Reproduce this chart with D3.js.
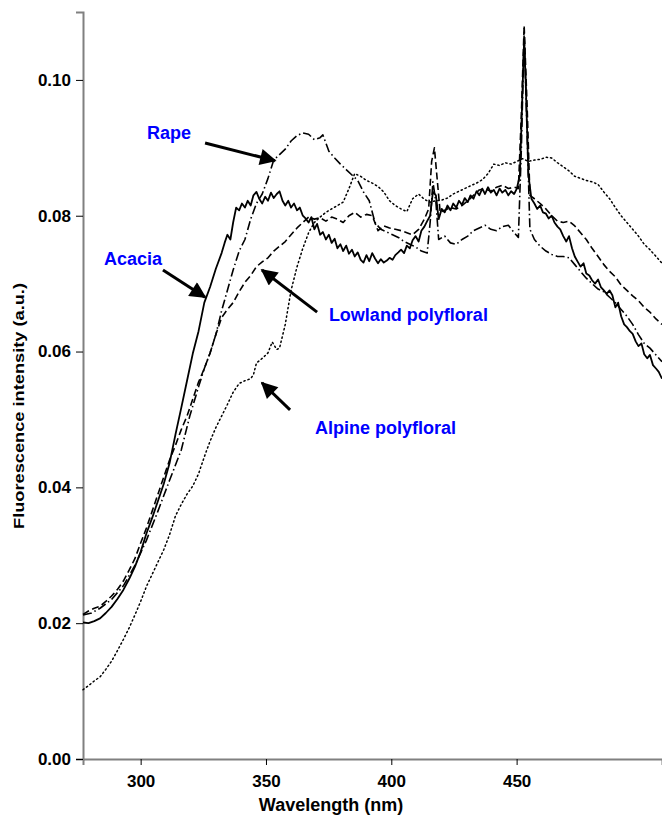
<!DOCTYPE html>
<html>
<head>
<meta charset="utf-8">
<script src="https://cdn.jsdelivr.net/npm/d3@7.9.0/dist/d3.min.js"></script>
<style>
  body { margin: 0; background: #fff; }
  svg { display: block; font-family: "Liberation Sans", Arial, sans-serif; }
  .tick text { font-weight: bold; font-size: 17px; fill: #000; }
  .lbl { font-weight: bold; font-size: 18px; fill: #0000ff; }
</style>
</head>
<body>
<svg width="662" height="815"></svg>
<script>
// wavelength (nm), intensity (a.u.)
const acacia = [[277,0.0201],[279.2,0.0200],[281.5,0.0203],[283.8,0.0207],[286.1,0.0215],[288.4,0.0224],[290.8,0.0236],[293.1,0.0249],[295.4,0.0265],[297.7,0.0283],[300,0.0305],[302.3,0.0332],[304.6,0.0355],[306.9,0.0380],[309.2,0.0405],[311.5,0.0435],[313.9,0.0478],[316.2,0.0517],[318.5,0.0557],[320.8,0.0597],[323.1,0.0630],[325.4,0.0672],[327.7,0.0695],[330,0.0722],[332.3,0.0745],[333.5,0.0760],[334.6,0.0772],[335.8,0.0765],[336.9,0.0790],[338.1,0.0812],[339.3,0.0808],[340.4,0.0818],[341.6,0.0812],[342.7,0.0822],[343.9,0.0815],[345,0.0830],[346.2,0.0835],[347.3,0.0825],[348.5,0.0818],[349.7,0.0828],[350.8,0.0822],[352,0.0834],[353.1,0.0826],[354.3,0.0832],[355.4,0.0836],[356.6,0.0822],[357.7,0.0815],[358.9,0.0822],[360,0.0812],[361.2,0.0818],[362.4,0.0808],[363.5,0.0812],[364.7,0.0800],[365.8,0.0796],[367,0.0790],[368.1,0.0798],[369.3,0.0780],[370.4,0.0788],[371.6,0.0772],[372.7,0.0776],[373.9,0.0765],[375.1,0.0772],[376.2,0.0760],[377.4,0.0766],[378.5,0.0752],[379.7,0.0758],[380.8,0.0748],[382,0.0756],[383.1,0.0744],[384.3,0.0750],[385.4,0.0740],[386.6,0.0746],[387.8,0.0735],[388.9,0.0731],[390.1,0.0742],[391.2,0.0733],[392.4,0.0745],[393.5,0.0737],[394.7,0.0730],[395.8,0.0736],[397,0.0731],[398.2,0.0734],[399.3,0.0738],[400.5,0.0735],[401.6,0.0742],[402.8,0.0746],[403.9,0.0750],[405.1,0.0745],[406.2,0.0756],[407.4,0.0752],[408.5,0.0764],[409.7,0.0770],[410.9,0.0762],[412,0.0778],[413.2,0.0784],[414.3,0.0792],[415.5,0.0800],[416.6,0.0835],[417.8,0.0830],[418.9,0.0795],[420.1,0.0810],[421.3,0.0805],[422.4,0.0815],[423.6,0.0808],[424.7,0.0818],[425.9,0.0812],[427,0.0822],[428.2,0.0816],[429.3,0.0826],[430.5,0.0820],[431.6,0.0830],[432.8,0.0825],[434,0.0836],[435.1,0.0830],[436.3,0.0840],[437.4,0.0832],[438.6,0.0842],[439.7,0.0834],[440.9,0.0838],[442,0.0830],[443.2,0.0840],[444.3,0.0834],[445.5,0.0838],[446.7,0.0830],[447.8,0.0836],[449,0.0832],[450.1,0.0840],[451.3,0.0860],[452.4,0.0990],[453,0.1060],[453.6,0.1000],[454.7,0.0860],[455.9,0.0825],[457.1,0.0818],[458.2,0.0810],[459.4,0.0815],[460.5,0.0805],[461.7,0.0803],[462.8,0.0796],[464,0.0800],[465.1,0.0790],[466.3,0.0784],[467.4,0.0780],[468.6,0.0770],[469.8,0.0762],[470.9,0.0770],[472.1,0.0752],[473.2,0.0740],[474.4,0.0732],[475.5,0.0725],[476.7,0.0730],[477.8,0.0715],[479,0.0712],[480.1,0.0705],[481.3,0.0700],[482.5,0.0706],[483.6,0.0695],[484.8,0.0690],[485.9,0.0685],[487.1,0.0690],[488.2,0.0683],[489.4,0.0665],[490.5,0.0672],[491.7,0.0652],[492.9,0.0640],[494,0.0636],[495.2,0.0630],[496.3,0.0626],[497.5,0.0615],[498.6,0.0608],[499.8,0.0612],[500.9,0.0596],[502.1,0.0590],[503.2,0.0595],[504.4,0.0580],[505.6,0.0575],[506.7,0.0570],[508,0.0560]];

const rape = [[277,0.0212],[280.4,0.0215],[283.8,0.0222],[288.4,0.0235],[293.1,0.0255],[297.7,0.0285],[302.3,0.0322],[306.9,0.0365],[311.5,0.0410],[316.2,0.0455],[319.6,0.0505],[323.1,0.0548],[325.4,0.0575],[327.7,0.0598],[330,0.0625],[332.3,0.0660],[334.6,0.0690],[336.9,0.0720],[339.3,0.0748],[341.6,0.0765],[343.9,0.0795],[346.2,0.0818],[348.5,0.0832],[350.8,0.0855],[353.1,0.0882],[355.4,0.0890],[357.7,0.0898],[360,0.0910],[362.4,0.0918],[364.7,0.0922],[367,0.0920],[369.3,0.0912],[371.6,0.0915],[372.7,0.0919],[375.1,0.0895],[377.4,0.0885],[379.7,0.0876],[382,0.0868],[384.3,0.0860],[386.6,0.0852],[388.9,0.0835],[391.2,0.0822],[393.5,0.0790],[395.8,0.0780],[398.2,0.0776],[400.5,0.0772],[402.8,0.0768],[405.1,0.0762],[407.4,0.0758],[409.7,0.0754],[412,0.0748],[414.3,0.0745],[415.5,0.0790],[416.6,0.0850],[417.8,0.0820],[418.9,0.0765],[421.3,0.0770],[423.6,0.0760],[425.9,0.0758],[428.2,0.0765],[430.5,0.0770],[432.8,0.0778],[435.1,0.0782],[437.4,0.0786],[439.7,0.0780],[442,0.0778],[444.3,0.0784],[446.7,0.0786],[449,0.0775],[450.7,0.0768],[451.9,0.0900],[453,0.1070],[454.2,0.0920],[455.3,0.0780],[457.1,0.0765],[459.4,0.0755],[461.7,0.0748],[464,0.0743],[466.3,0.0740],[468.6,0.0740],[470.9,0.0738],[473.2,0.0728],[475.5,0.0718],[477.8,0.0708],[480.1,0.0700],[482.5,0.0692],[484.8,0.0688],[487.1,0.0680],[489.4,0.0672],[491.7,0.0662],[494,0.0652],[496.3,0.0640],[498.6,0.0625],[500.9,0.0612],[503.2,0.0605],[505.6,0.0595],[508,0.0585]];

const lowland = [[277,0.0213],[279.2,0.0218],[281.5,0.0222],[283.8,0.0225],[286.1,0.0232],[288.4,0.0240],[290.8,0.0250],[293.1,0.0262],[295.4,0.0278],[297.7,0.0295],[300,0.0318],[302.3,0.0340],[304.6,0.0365],[306.9,0.0390],[309.2,0.0415],[311.5,0.0440],[313.9,0.0462],[316.2,0.0485],[318.5,0.0505],[320.8,0.0530],[323.1,0.0555],[325.4,0.0575],[327.7,0.0598],[330,0.0625],[332.3,0.0650],[334.6,0.0662],[336.9,0.0672],[339.3,0.0688],[341.6,0.0702],[343.9,0.0712],[346.2,0.0725],[348.5,0.0732],[350.8,0.0738],[353.1,0.0748],[355.4,0.0755],[357.7,0.0762],[360,0.0772],[362.4,0.0782],[364.7,0.0790],[367,0.0798],[369.3,0.0795],[371.6,0.0797],[373.9,0.0792],[376.2,0.0798],[378.5,0.0795],[380.8,0.0790],[383.1,0.0800],[385.4,0.0805],[387.8,0.0798],[390.1,0.0802],[392.4,0.0800],[394.7,0.0778],[397,0.0785],[399.3,0.0782],[401.6,0.0780],[403.9,0.0778],[406.2,0.0775],[408.5,0.0772],[410.9,0.0780],[413.2,0.0795],[414.9,0.0810],[416.1,0.0880],[417.2,0.0900],[418.4,0.0850],[419.5,0.0805],[421.3,0.0808],[423.6,0.0812],[425.9,0.0810],[428.2,0.0815],[430.5,0.0822],[432.8,0.0830],[435.1,0.0838],[437.4,0.0840],[439.7,0.0836],[442,0.0842],[444.3,0.0845],[446.7,0.0840],[449,0.0842],[450.7,0.0840],[451.9,0.0950],[453,0.1080],[454.2,0.0960],[455.3,0.0830],[457.1,0.0825],[459.4,0.0818],[461.7,0.0810],[464,0.0800],[466.3,0.0792],[468.6,0.0790],[470.9,0.0792],[473.2,0.0785],[475.5,0.0775],[477.8,0.0765],[480.1,0.0752],[482.5,0.0740],[484.8,0.0728],[487.1,0.0718],[489.4,0.0710],[491.7,0.0698],[494,0.0690],[496.3,0.0682],[498.6,0.0675],[500.9,0.0665],[503.2,0.0658],[505.6,0.0648],[508,0.0640]];

const alpine = [[277,0.0102],[279.2,0.0108],[281.5,0.0115],[283.8,0.0121],[286.1,0.0132],[288.4,0.0144],[290.8,0.0160],[293.1,0.0176],[295.4,0.0193],[297.7,0.0212],[300,0.0232],[302.3,0.0254],[304.6,0.0272],[306.9,0.0290],[309.2,0.0308],[311.5,0.0330],[313.9,0.0358],[316.2,0.0375],[318.5,0.0390],[320.8,0.0402],[323.1,0.0420],[325.4,0.0445],[327.7,0.0468],[330,0.0488],[332.3,0.0505],[334.6,0.0522],[336.9,0.0540],[339.3,0.0553],[341.6,0.0557],[343.9,0.0560],[345,0.0566],[346.2,0.0583],[348.5,0.0590],[350.8,0.0598],[352.5,0.0614],[354.3,0.0603],[355.4,0.0605],[357.7,0.0640],[360,0.0690],[362.4,0.0725],[364.7,0.0752],[367,0.0775],[369.3,0.0790],[371.6,0.0798],[373.9,0.0805],[376.2,0.0810],[378.5,0.0815],[380.8,0.0820],[383.1,0.0840],[385.4,0.0862],[387.8,0.0858],[390.1,0.0852],[392.4,0.0848],[394.7,0.0843],[397,0.0835],[399.3,0.0822],[401.6,0.0815],[403.9,0.0810],[406.2,0.0806],[408.5,0.0825],[410.9,0.0832],[413.2,0.0824],[415.5,0.0820],[417.8,0.0822],[420.1,0.0823],[422.4,0.0826],[424.7,0.0832],[427,0.0836],[429.3,0.0840],[431.6,0.0844],[434,0.0848],[436.3,0.0853],[438.6,0.0862],[440.9,0.0876],[443.2,0.0874],[445.5,0.0878],[447.8,0.0876],[450.1,0.0880],[452.4,0.0884],[454.7,0.0880],[457.1,0.0882],[459.4,0.0883],[461.7,0.0886],[464,0.0885],[466.3,0.0878],[468.6,0.0872],[470.9,0.0866],[473.2,0.0858],[475.5,0.0855],[477.8,0.0852],[480.1,0.0850],[482.5,0.0846],[484.8,0.0835],[487.1,0.0825],[489.4,0.0812],[491.7,0.0800],[494,0.0790],[496.3,0.0780],[498.6,0.0770],[500.9,0.0758],[503.2,0.0750],[505.6,0.0740],[508,0.0730]];

const xTicks = [300, 350, 400, 450];
const yTicks = [0, 0.02, 0.04, 0.06, 0.08, 0.10];

// annotation text anchor and arrow from/to, in data units (nm, a.u.)
const labels = [
  { text: "Rape", at: [302.5, 0.0913], from: [325.7, 0.0907], to: [353.6, 0.0881] },
  { text: "Acacia", at: [285.4, 0.0727], from: [308.9, 0.0720], to: [325.7, 0.0680] },
  { text: "Lowland polyfloral", at: [375.1, 0.0645], from: [370.4, 0.0658], to: [348.4, 0.0720] },
  { text: "Alpine polyfloral", at: [369.6, 0.0479], from: [359.6, 0.0514], to: [348.4, 0.0554] }
];

const svg = d3.select("svg");
const margin = { left: 83, right: 0, top: 12, bottom: 56 };
const W = 662, H = 815;

const x = d3.scaleLinear().domain([277, 508]).range([margin.left, W - margin.right]);
const y = d3.scaleLinear().domain([0, 0.11]).range([H - margin.bottom, margin.top]);

// arrowhead
svg.append("defs").append("marker")
  .attr("id", "head")
  .attr("viewBox", "0 0 10 10")
  .attr("refX", 9).attr("refY", 5)
  .attr("markerWidth", 6.5).attr("markerHeight", 5.5)
  .attr("markerUnits", "strokeWidth")
  .attr("orient", "auto")
  .append("path").attr("d", "M0,0 L10,5 L0,10 z").attr("fill", "#000");

// axes
const xAxis = svg.append("g")
  .attr("transform", `translate(0,${y(0)})`)
  .call(d3.axisBottom(x).tickValues(xTicks).tickSize(6).tickPadding(8).tickFormat(d3.format("d")));
const yAxis = svg.append("g")
  .attr("transform", `translate(${x(277)},0)`)
  .call(d3.axisLeft(y).tickValues(yTicks).tickSize(7).tickPadding(5).tickFormat(d3.format(".2f")));

[xAxis, yAxis].forEach(g => {
  g.select(".domain").attr("stroke", "#808080").attr("stroke-width", 2);
  g.selectAll(".tick line").attr("stroke", "#000").attr("stroke-width", 1);
});
xAxis.selectAll(".tick text").attr("dy", "0.85em");

// axis titles
svg.append("text")
  .attr("x", 331).attr("y", 811)
  .attr("text-anchor", "middle")
  .attr("font-weight", "bold").attr("font-size", 18)
  .text("Wavelength (nm)");

svg.append("text")
  .attr("transform", "translate(24,406) rotate(-90)")
  .attr("text-anchor", "middle")
  .attr("font-weight", "bold").attr("font-size", 15)
  .attr("textLength", 246).attr("lengthAdjust", "spacingAndGlyphs")
  .text("Fluorescence intensity (a.u.)");

// the four spectra
const line = d3.line().x(d => x(d[0])).y(d => y(d[1]));
const series = [
  { name: "Alpine polyfloral", data: alpine, dash: "1.3,3", width: 1.5, cap: "round" },
  { name: "Rape", data: rape, dash: "9,3,1.5,3", width: 1.6, cap: "butt" },
  { name: "Lowland polyfloral", data: lowland, dash: "7,3.5", width: 1.6, cap: "butt" },
  { name: "Acacia", data: acacia, dash: null, width: 1.8, cap: "butt" }
];

svg.append("g").selectAll("path")
  .data(series)
  .join("path")
  .attr("d", d => line(d.data))
  .attr("fill", "none")
  .attr("stroke", "#000")
  .attr("stroke-width", d => d.width)
  .attr("stroke-linecap", d => d.cap)
  .attr("stroke-linejoin", "round")
  .attr("stroke-dasharray", d => d.dash);

// annotations
const ann = svg.append("g");
labels.forEach(l => {
  ann.append("text").attr("class", "lbl")
    .attr("x", x(l.at[0])).attr("y", y(l.at[1]))
    .text(l.text);
  ann.append("line")
    .attr("x1", x(l.from[0])).attr("y1", y(l.from[1]))
    .attr("x2", x(l.to[0])).attr("y2", y(l.to[1]))
    .attr("stroke", "#000").attr("stroke-width", 3)
    .attr("marker-end", "url(#head)");
});
</script>
</body>
</html>
